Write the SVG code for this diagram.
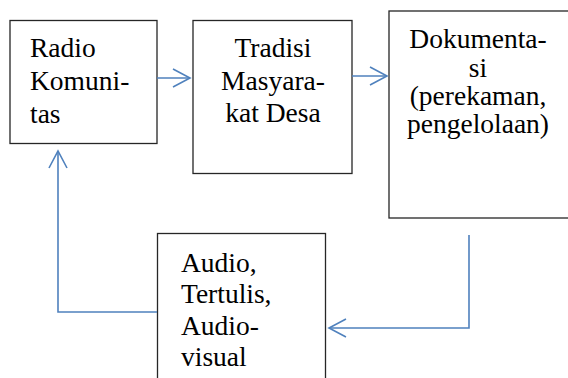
<svg xmlns="http://www.w3.org/2000/svg" width="568" height="378" viewBox="0 0 568 378">
  <style>
    .box { fill: #ffffff; stroke: #262626; stroke-width: 1.3; }
    .t { font-family: 'Liberation Serif', 'Times New Roman', serif; font-size: 27.5px; fill: #000000; }
    .c { text-anchor: middle; }
    .conn { fill: none; stroke: #4F81BD; stroke-width: 1.6; }
  </style>
  <defs>
    <marker id="arr" markerUnits="userSpaceOnUse" markerWidth="24" markerHeight="24" viewBox="-20 -12 24 24" refX="0" refY="0" orient="auto" overflow="visible">
      <path d="M-17,-9 L0,0 L-17,9" fill="none" stroke="#4F81BD" stroke-width="1.6"/>
    </marker>
  </defs>
  <rect width="568" height="378" fill="#ffffff"/>

  <g id="node-radio">
    <rect class="box" x="10" y="20.5" width="147" height="123"/>
    <text class="t" x="30" y="57">Radio</text>
    <text class="t" x="30" y="90">Komuni-</text>
    <text class="t" x="30" y="123">tas</text>
  </g>

  <g id="node-tradisi">
    <rect class="box" x="193" y="20.5" width="159" height="153"/>
    <text class="t c" x="273" y="57">Tradisi</text>
    <text class="t c" x="273" y="90">Masyara-</text>
    <text class="t c" x="273" y="122">kat Desa</text>
  </g>

  <g id="node-dokumentasi">
    <rect class="box" x="389" y="11" width="190" height="207"/>
    <text class="t c" x="478" y="48">Dokumenta-</text>
    <text class="t c" x="478" y="77">si</text>
    <text class="t c" x="478" y="105">(perekaman,</text>
    <text class="t c" x="478" y="133">pengelolaan)</text>
  </g>

  <g id="node-audio">
    <rect class="box" x="157.5" y="233.5" width="168" height="160"/>
    <text class="t" x="181" y="272">Audio,</text>
    <text class="t" x="181" y="303">Tertulis,</text>
    <text class="t" x="181" y="335">Audio-</text>
    <text class="t" x="181" y="366">visual</text>
  </g>

  <g id="connectors">
    <path class="conn" d="M157,78 L190,78" marker-end="url(#arr)"/>
    <path class="conn" d="M352,76 L387,76" marker-end="url(#arr)"/>
    <path class="conn" d="M469,235 L469,328 L329,328" marker-end="url(#arr)"/>
    <path class="conn" d="M157,312 L58,312 L58,151" marker-end="url(#arr)"/>
  </g>
</svg>
